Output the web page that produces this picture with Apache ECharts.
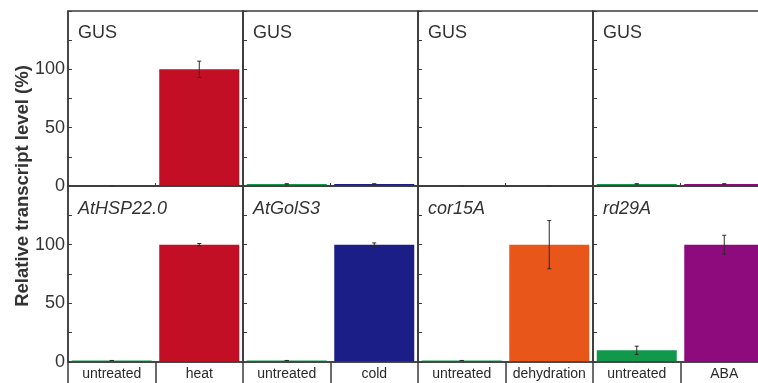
<!DOCTYPE html>
<html>
<head>
<meta charset="utf-8">
<script src="https://cdn.jsdelivr.net/npm/echarts@6/dist/echarts.min.js"></script>
<style>
  html, body { margin: 0; padding: 0; background: #fff; overflow: hidden; width: 758px; height: 383px; }
  /* the rightmost panel runs past the page edge, so the canvas is a little wider than the view */
  #chart { width: 772px; height: 383px; }
</style>
</head>
<body>
<div id="chart"></div>
<script>
// Transcript levels (%) of GUS reporter and marker genes after stress treatments
const treatments = ['heat', 'cold', 'dehydration', 'ABA'];
const untreatedLabel = 'untreated';
const markerGenes = ['AtHSP22.0', 'AtGolS3', 'cor15A', 'rd29A'];
const reporterName = 'GUS';

// GUS reporter (top row)
const gusUntreated = [0, 1.8, 0, 1.8];
const gusUntreatedErr = [0, 0, 0, 0];
const gusTreated = [100, 1.8, 0, 1.8];
const gusTreatedErr = [7, 0, 0, 0];

// Marker genes (bottom row)
const markerUntreated = [1.3, 1.3, 1.3, 10];
const markerUntreatedErr = [0, 0, 0, 3.5];
const markerTreated = [100, 100, 100, 100];
const markerTreatedErr = [1, 1.5, 20.5, 8];

const yTicks = [0, 50, 100];
const untreatedColor = '#12984a';
const treatedColors = ['#c20f25', '#1c1e88', '#e8561a', '#8e0b7e'];

const FONT = '"Liberation Sans", Arial, Helvetica, sans-serif';
const AXIS = '#3c3c3c';
const panelLeft = 68, panelW = 175;
const rows = [
  { top: 11, height: 175, names: [reporterName, reporterName, reporterName, reporterName],
    un: gusUntreated, unErr: gusUntreatedErr, tr: gusTreated, trErr: gusTreatedErr, italic: false, labels: false },
  { top: 186, height: 176, names: markerGenes,
    un: markerUntreated, unErr: markerUntreatedErr, tr: markerTreated, trErr: markerTreatedErr, italic: true, labels: true }
];

const grids = [], xAxes = [], yAxes = [], series = [], titles = [];
let gi = 0;
rows.forEach((row, r) => {
  for (let c = 0; c < 4; c++) {
    grids.push({
      left: panelLeft + c * panelW, top: row.top, width: panelW, height: row.height,
      show: true, borderColor: AXIS, borderWidth: 1.5, backgroundColor: 'transparent'
    });
    xAxes.push({
      gridIndex: gi, type: 'category', data: [untreatedLabel, treatments[c]],
      axisLine: { show: true, lineStyle: { color: AXIS, width: 1.5 } },
      axisTick: row.labels
        ? { show: true, inside: false, length: 22, lineStyle: { color: AXIS, width: 1.5 } }
        : { show: true, inside: true, length: 3, interval: 0, lineStyle: { color: AXIS, width: 1 } },
      axisLabel: {
        show: row.labels, margin: 5, fontSize: 14, fontFamily: FONT, color: '#2a2a2a', interval: 0
      },
      z: 5
    });
    yAxes.push({
      gridIndex: gi, type: 'value', min: 0, max: 150, interval: 25,
      splitLine: { show: false },
      axisLine: { show: true, lineStyle: { color: AXIS, width: 1.5 } },
      axisTick: { show: true, inside: true, length: 4, lineStyle: { color: AXIS, width: 1 } },
      axisLabel: {
        show: c === 0, margin: 3, fontSize: 18, fontFamily: FONT, color: '#333',
        formatter: v => (yTicks.indexOf(v) >= 0 && v < 150 ? String(v) : '')
      },
      z: 5
    });
    series.push({
      type: 'bar', xAxisIndex: gi, yAxisIndex: gi, barWidth: 80, silent: true,
      data: [
        { value: row.un[c], itemStyle: { color: untreatedColor } },
        { value: row.tr[c], itemStyle: { color: treatedColors[c] } }
      ],
      z: 2
    });
    series.push({
      type: 'custom', xAxisIndex: gi, yAxisIndex: gi, silent: true, z: 4,
      data: [[0, row.un[c], row.unErr[c]], [1, row.tr[c], row.trErr[c]]],
      renderItem: function (params, api) {
        const cat = api.value(0), v = api.value(1), e = api.value(2);
        const hi = api.coord([cat, v + e]);
        const lo = api.coord([cat, v - e]);
        const cap = 2;
        const style = { stroke: '#2b2b2b', lineWidth: 1 };
        return {
          type: 'group',
          children: [
            { type: 'line', shape: { x1: hi[0], y1: hi[1], x2: lo[0], y2: lo[1] }, style },
            { type: 'line', shape: { x1: hi[0] - cap, y1: hi[1], x2: hi[0] + cap, y2: hi[1] }, style },
            { type: 'line', shape: { x1: lo[0] - cap, y1: lo[1], x2: lo[0] + cap, y2: lo[1] }, style }
          ]
        };
      }
    });
    titles.push({
      text: row.names[c],
      left: panelLeft + c * panelW + 10,
      top: row.top + (r === 0 ? 13 : 14),
      padding: 0,
      textStyle: {
        fontSize: 18, fontWeight: 'normal', fontStyle: row.italic ? 'italic' : 'normal',
        fontFamily: FONT, color: '#333', lineHeight: 18
      }
    });
    gi++;
  }
});

const chart = echarts.init(document.getElementById('chart'), null, { renderer: 'canvas' });
chart.setOption({
  animation: false,
  backgroundColor: '#fff',
  title: titles,
  grid: grids,
  xAxis: xAxes,
  yAxis: yAxes,
  series: series,
  graphic: [{
    type: 'text', x: 23, y: 186, rotation: Math.PI / 2,
    style: {
      text: 'Relative transcript level (%)', fontSize: 18.5, fontWeight: 'bold',
      fontFamily: FONT, fill: '#333', align: 'center', verticalAlign: 'middle'
    }
  }]
});
</script>
</body>
</html>
